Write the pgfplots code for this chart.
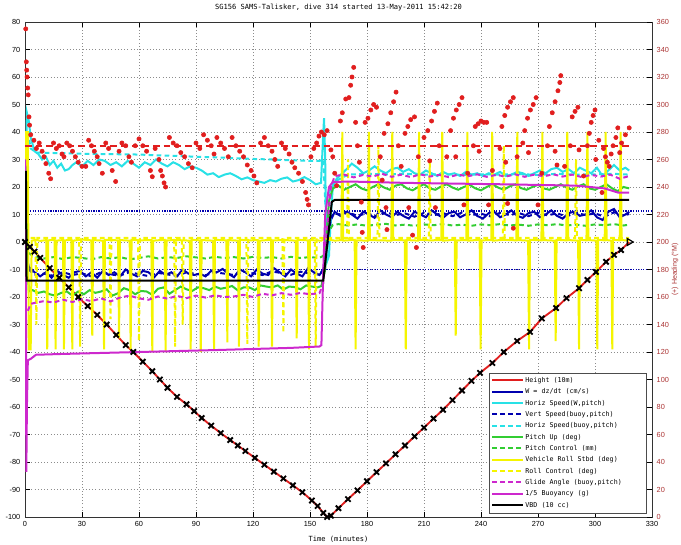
\documentclass[border=0pt]{standalone}
\usepackage{fontspec}
\setmainfont{Liberation Sans}
\setmonofont{DejaVu Sans Mono}
\usepackage{pgfplots}
\pgfplotsset{compat=1.18}
\definecolor{cred}{RGB}{225,30,30}
\definecolor{cblue}{RGB}{0,0,175}
\definecolor{ccyan}{RGB}{40,225,230}
\definecolor{cgreen}{RGB}{50,205,50}
\definecolor{cyellow}{RGB}{245,245,0}
\definecolor{cmag}{RGB}{205,40,205}
\definecolor{cdkred}{RGB}{170,50,50}
\tikzset{dsh/.style={dash pattern=on 3.5pt off 2.5pt}}
\begin{document}
\begin{tikzpicture}
\begin{axis}[
  at={(0,0)}, anchor=south west,
  width=470.25pt, height=371.25pt, scale only axis,
  xmin=0, xmax=330, ymin=-100, ymax=80,
  xtick={0,30,...,330}, ytick={-100,-90,...,80},
  tick align=inside, ytick pos=left,
  grid=major, major grid style={dash pattern=on 0.6pt off 1.8pt, black!45, line width=0.4pt},
  tick style={black, line width=0.4pt}, major tick length=4pt,
  axis line style={black!80, line width=0.5pt},
  ticklabel style={font=\fontsize{5.5}{6}\selectfont},
  /pgf/number format/assume math mode=true,
  title={SG156 SAMS-Talisker, dive 314 started 13-May-2011 15:42:20},
  title style={font=\fontsize{5.3}{6}\selectfont\ttfamily, yshift=-1pt},
  xlabel={Time (minutes)},
  xlabel style={font=\fontsize{5.3}{6}\selectfont\ttfamily},
  legend style={at={(0.992,0.008)}, anchor=south east,
    font=\fontsize{5}{6}\selectfont\ttfamily, draw=black!70, line width=0.4pt,
    fill=white, row sep=0pt, inner sep=1.5pt,
    nodes={inner sep=1.2pt, text height=4.5pt, text depth=1.6pt, anchor=west}},
  legend cell align=left,
  legend image code/.code={\draw[#1] (0pt,0pt) -- (23pt,0pt);},
]
\addlegendimage{cred, line width=1.5pt}\addlegendentry{Height (10m)}
\addlegendimage{cblue, line width=1.5pt}\addlegendentry{W = dz/dt (cm/s)}
\addlegendimage{ccyan, line width=1.5pt}\addlegendentry{Horiz Speed(W,pitch)}
\addlegendimage{cblue, line width=1.5pt, dsh}\addlegendentry{Vert Speed(buoy,pitch)}
\addlegendimage{ccyan, line width=1.5pt, dsh}\addlegendentry{Horiz Speed(buoy,pitch)}
\addlegendimage{cgreen, line width=1.5pt}\addlegendentry{Pitch Up (deg)}
\addlegendimage{cgreen, line width=1.5pt, dsh}\addlegendentry{Pitch Control (mm)}
\addlegendimage{cyellow, line width=1.5pt}\addlegendentry{Vehicle Roll Stbd (deg)}
\addlegendimage{cyellow, line width=1.5pt, dsh}\addlegendentry{Roll Control (deg)}
\addlegendimage{cmag, line width=1.5pt, dsh}\addlegendentry{Glide Angle (buoy,pitch)\hspace*{16pt}}
\addlegendimage{cmag, line width=1.5pt}\addlegendentry{1/5 Buoyancy (g)}
\addlegendimage{black, line width=1.5pt}\addlegendentry{VBD (10 cc)}

% desired W lines
\addplot[forget plot, cblue, densely dotted, line width=0.9pt] coordinates {(0,11.3) (330,11.3)};
\addplot[forget plot, cblue, densely dotted, line width=0.9pt] coordinates {(0,-10) (330,-10)};

% Height (10m)
\addplot[forget plot, cred, line width=1.4pt] coordinates {
(0,0) (2.6,-1.8) (5,-3.5) (8,-5.8) (13,-9.5) (18,-13) (23,-16.5) (28,-20) (33,-23.3) (38,-26.5) (43,-30) (48,-33.8) (53,-37.5) (57,-40) (62,-43.5) (67,-47) (71,-50) (75,-53) (80,-56.3) (85,-59) (89,-61.5) (93,-64) (98,-66.8) (103,-69.5) (108,-72) (112,-74) (116,-76) (121,-78.5) (126,-81) (131,-83.5) (136,-86) (141,-88.5) (146,-91) (151,-94) (154,-96) (157,-98.5) (159,-100) (161,-99.5) (165,-96.8) (170,-93.5) (175,-90.3) (180,-87) (185,-83.7) (190,-80.5) (195,-77.2) (200,-74) (205,-70.7) (210,-67.5) (215,-64.2) (220,-61) (225,-57.5) (230,-54) (235,-50.5) (239.5,-47.6) (246,-44) (252,-40) (259,-36) (265.8,-32.7) (272,-27.8) (279.5,-24) (285,-20.4) (291.6,-16.8) (296,-13.8) (300.5,-10.9) (305.8,-7.2) (310,-4.7) (313.7,-2.9) (318,0)};

% W = dz/dt
\addplot[forget plot, cblue, line width=1.5pt] coordinates {
(1,-6) (2,-9) (5,-11) (8,-12.5) (11,-11) (14,-13) (17,-10.5) (20,-12) (23,-13) (26,-11) (29,-10.5) (32,-12.5) (35,-11) (38,-13) (41,-10.5) (44,-12) (47,-11) (50,-12.5) (53,-10) (56,-11.5) (59,-12.5) (62,-10.5) (65,-11) (68,-12.8) (71,-10.5) (74,-12) (77,-11) (80,-12.5) (83,-10) (86,-11.5) (89,-12) (92,-11.5) (95,-12.5) (98,-10.5) (101,-11) (104,-9.8) (107,-11.5) (110,-12.8) (113,-10) (116,-11) (119,-12.5) (122,-10) (125,-11.5) (128,-12) (131,-9.5) (134,-11) (137,-12.5) (140,-10) (143,-11.5) (146,-12.5) (149,-9.5) (152,-11) (155,-12) (157,-10) (159,-2) (161,8) (163,11) (166,9.5) (169,11) (172,10) (175,8.5) (178,11) (181,10) (184,8.8) (187,11.5) (190,10) (193,9) (196,11) (199,9.5) (202,8.5) (205,11) (208,10) (211,9) (214,11.5) (217,10) (220,8.8) (223,10.5) (226,11) (229,9) (232,10) (235,11.5) (238,9.5) (241,8.5) (244,10.5) (247,11) (250,9) (253,10) (256,11.5) (259,9.5) (262,8.8) (265,10.5) (268,11) (271,9) (274,10) (277,11.5) (280,9.5) (283,8.5) (286,10.5) (289,11) (292,9.5) (295,10) (298,11.5) (301,9) (304,8) (307,11) (310,12) (313,9) (316,10) (318,11)};

% Horiz Speed (W,pitch)
\addplot[forget plot, ccyan, line width=1.5pt] coordinates {
(0.5,30) (1,47) (2,44) (3,38) (5,33) (7,32) (9,30) (11,31) (13,28) (15,29.5) (17,27) (19,28.5) (21,26) (23,26.5) (25,28) (27,29) (30,27.5) (33,29.5) (36,28) (39,30) (42,29.5) (45,28) (48,29) (51,27.5) (54,29.5) (57,28.5) (60,27) (63,29) (66,28) (69,30) (72,28.5) (75,27.5) (78,29) (81,28) (84,26.5) (87,27.5) (90,27) (93,26) (96,24.5) (99,25) (102,23.6) (105,24.5) (108,25) (111,24) (114,22.8) (117,23.5) (120,22.5) (123,22) (126,21.5) (129,22.5) (132,22) (135,23) (138,23.5) (141,22) (144,22.5) (147,23.6) (150,22.5) (153,21) (155.8,21.5) (157,40) (157.4,45) (158,30) (158.5,0) (159,-7) (160,-5) (161,10) (162,20) (164,23) (167,25) (170,27) (172,28.5) (175,27) (178,25) (181,26) (184,27.5) (187,26) (190,25) (193,26.5) (196,27) (199,25.5) (202,26.5) (205,25) (208,24.5) (211,26) (214,25) (217,24) (220,25.5) (223,24.5) (226,25) (229,24) (232,25.5) (235,24.5) (238,25) (241,24) (244,25) (247,24.5) (250,25.5) (253,24) (256,24.5) (259,25.5) (262,25) (265,24) (268,25) (271,26) (274,25) (277,26.5) (280,27) (283,25.5) (286,26.5) (289,25) (292,27) (295,26) (298,25) (301,27) (304,24) (307,26) (310,28) (313,26) (316,27) (318,26)};

% Vert Speed (buoy,pitch)
\addplot[forget plot, cblue, line width=1.5pt, dsh] coordinates {
(2,-10) (5,-12) (10,-11.5) (15,-12.3) (20,-11) (25,-12) (30,-11.4) (35,-12.5) (40,-11) (45,-11.8) (50,-12.2) (55,-11) (60,-11.7) (65,-12.4) (70,-11.2) (75,-11.8) (80,-12.3) (85,-11) (90,-11.6) (95,-12.1) (100,-11) (105,-11.5) (110,-12) (115,-10.8) (120,-11.4) (125,-12) (130,-10.7) (135,-11.3) (140,-11.9) (145,-10.8) (150,-11.5) (155,-11.8) (157,-10) (159,0) (161,9) (163,10.5) (165,10) (170,10.8) (175,9.5) (180,10.5) (185,9.3) (190,10.8) (195,9.8) (200,10.4) (205,9.2) (210,10.6) (215,9.7) (220,10.5) (225,9.4) (230,10.7) (235,9.8) (240,10.3) (245,9.3) (250,10.6) (255,9.8) (260,10.5) (265,9.4) (270,10.6) (275,9.7) (280,10.4) (285,9.3) (290,10.6) (295,9.8) (300,10.4) (305,9.2) (310,10.8) (315,9.6) (318,10.2)};

% Horiz Speed (buoy,pitch)
\addplot[forget plot, ccyan, line width=1.5pt, dsh] coordinates {
(1.5,40) (3,34) (6,32.5) (12,32.4) (20,32.3) (30,32.1) (40,32) (50,31.9) (60,31.8) (70,31.5) (80,31.3) (90,31) (100,30.8) (110,30.5) (120,30.2) (130,30) (140,29.7) (150,29.5) (155,29.5) (157,30) (158,15) (160,18) (163,22) (170,24.5) (180,24.8) (190,24.6) (200,24.8) (210,24.5) (220,24.7) (230,24.4) (240,24.6) (250,24.5) (260,24.7) (270,24.4) (280,24.8) (290,24.5) (300,24.6) (310,24.8) (318,24.5)};

% Pitch Up
\addplot[forget plot, cgreen, line width=1.5pt] coordinates {
(0.5,36) (1,30) (1.5,-10) (2,-18) (4,-17.5) (7,-18.5) (10,-18) (13,-19) (16,-19.5) (19,-18.5) (22,-18) (25,-19.5) (28,-18) (31,-19) (34,-17.5) (37,-18.5) (40,-18) (43,-17.2) (46,-19.5) (49,-18.6) (52,-16.8) (55,-17.5) (58,-19) (61,-17.8) (64,-18) (67,-19.2) (70,-17) (73,-16.5) (76,-18.8) (79,-17.5) (82,-16.2) (85,-17.2) (88,-17.8) (91,-16.5) (94,-16.8) (97,-17.5) (100,-16.2) (103,-17) (106,-16.6) (109,-16) (112,-17.6) (115,-16.5) (118,-16.5) (121,-17.5) (124,-15.8) (127,-16.2) (130,-16.5) (133,-15.8) (136,-17.3) (139,-16.2) (142,-16.4) (145,-17.2) (148,-15.8) (151,-16.2) (154,-16.5) (156,-16) (158,-10) (159,5) (160,15) (162,19.5) (165,20.5) (168,19) (171,20) (174,21) (177,19.5) (180,18.8) (183,20) (186,21) (189,19.8) (192,19) (195,20.5) (198,21) (201,19.5) (204,18.8) (207,20) (210,21) (213,19.5) (216,19) (219,20.2) (222,21) (225,19.8) (228,19) (231,20) (234,20.8) (237,19.5) (240,18.8) (243,20) (246,21) (249,19.8) (252,19) (255,20.2) (258,21) (261,19.6) (264,19) (267,20) (270,20.8) (273,19.5) (276,19) (279,20) (282,21) (285,19.8) (288,19) (291,20.2) (294,21) (297,19.5) (300,19) (303,20) (306,21) (309,19.5) (312,18.5) (315,20) (318,19.5)};

% Pitch Control
\addplot[forget plot, cgreen, line width=1.5pt, dsh] coordinates {
(2,-4) (5,-5.5) (10,-6) (15,-5.5) (20,-6.2) (25,-5.5) (30,-5.8) (35,-6.3) (40,-5.5) (45,-6) (50,-5.5) (55,-6.3) (60,-5.8) (65,-5.2) (70,-6) (75,-5.5) (80,-5.8) (85,-5.2) (90,-5.6) (95,-6) (100,-5.4) (105,-5.8) (110,-5.5) (115,-6) (120,-5.4) (125,-5.8) (130,-5.5) (135,-6) (140,-5.4) (145,-5.8) (150,-5.5) (155,-5.8) (157,-5) (160,4) (162,6.2) (165,6.5) (170,6) (175,6.4) (180,5.9) (185,6.3) (190,6.6) (195,6) (200,6.3) (205,5.9) (210,6.4) (215,6.1) (220,6.5) (225,6) (230,6.3) (235,5.9) (240,6.4) (245,6.1) (250,6.5) (255,6) (260,6.3) (265,5.9) (270,6.4) (275,6.1) (280,6.5) (285,6) (290,6.3) (295,5.9) (300,6.4) (305,6.1) (310,6.5) (315,6) (318,6.3)};

% Vehicle Roll Stbd
\addplot[forget plot, cyellow, line width=1.5pt] coordinates {
(0,5) (0.5,40) (1.5,40) (2,-39) (3,-39) (3.5,0.5) (6,0.8) (8,0.4) (11.2,0.7) (11.7,-39) (12.2,0.6) (15.6,0.8) (16.1,-39) (16.6,0.5) (20,0.7) (20.5,-39) (21,0.6) (24.4,0.8) (24.9,-39) (25.4,0.5) (30,0.9) (34.9,0.6) (35.4,-34) (35.9,0.7) (41.1,0.5) (41.6,-39) (42.1,0.8) (49,0.6) (49.5,-35) (50,0.7) (55.1,0.5) (55.6,-39) (56.1,0.8) (60,0.6) (66.5,0.7) (67,-40) (67.5,0.5) (73.5,0.8) (74,-40) (74.5,0.6) (80,0.7) (86.7,0.5) (87.2,-39) (87.7,0.8) (92,0.6) (92.5,-40) (93,0.7) (99,0.5) (99.5,-39) (100,0.8) (106,0.6) (106.5,-36.5) (107,0.7) (112.1,0.5) (112.6,-38) (113.1,0.8) (118,0.6) (122.5,0.7) (123,-38) (123.5,0.5) (129.5,0.8) (130,-38) (130.5,0.6) (137,0.7) (142.5,0.5) (143,-35) (143.5,0.8) (149,0.6) (149.5,-39) (150,0.7) (156,0.5) (158,1.5) (160,0.8) (163,0.5) (166.5,0.7) (167,40) (167.5,0.5) (173.5,0.8) (174,-39) (174.5,0.6) (180.5,0.5) (181,40) (181.5,0.7) (187,0.6) (192.8,0.5) (193.3,40) (193.8,0.8) (199.9,0.6) (200.4,-39) (200.9,0.7) (206.9,0.5) (207.4,40) (207.9,0.8) (213,0.6) (219.1,0.7) (219.6,40) (220.1,0.5) (226.2,0.8) (226.7,-34) (227.2,0.6) (232.3,0.7) (232.8,40) (233.3,0.5) (239.3,0.8) (239.8,-39) (240.3,0.6) (245.4,0.7) (245.9,40) (246.4,0.5) (252,0.8) (258.6,0.6) (259.1,40) (259.6,0.7) (264.8,0.5) (265.3,-39) (265.8,0.8) (271.8,0.6) (272.3,40) (272.8,0.7) (278.8,0.5) (279.3,-36) (279.8,0.8) (284.9,0.6) (285.4,40) (285.9,0.7) (291.1,0.5) (291.6,-39) (292.1,0.8) (295.5,0.6) (296,40) (296.5,0.7) (300.7,0.5) (301.2,-39) (301.7,0.8) (305.1,0.6) (305.6,40) (306.1,0.7) (308.6,0.5) (309.1,-39) (309.6,0.8) (313,0.6) (313.5,40) (314,0.7) (318,0.5)};

% Roll Control
\addplot[forget plot, cyellow, line width=1.5pt, dsh] coordinates {
(3,1.5) (5.5,1.5) (6,-30) (6.5,1.5) (28.5,1.5) (29,-38) (29.5,1.5) (44.5,1.5) (45,-28) (45.5,1.5) (59.5,1.5) (60,-36) (60.5,1.5) (78.5,1.5) (79,-38) (79.5,1.5) (82.5,1.5) (83,-30) (83.5,1.5) (116.5,1.5) (117,-37) (117.5,1.5) (135.5,1.5) (136,-33) (136.5,1.5) (152.5,1.5) (153,-38) (153.5,1.5) (169.5,1.5) (170,30) (170.5,1.5) (185.5,1.5) (186,35) (186.5,1.5) (212.5,1.5) (213,30) (213.5,1.5) (251.5,1.5) (252,35) (252.5,1.5) (289.5,1.5) (290,30) (290.5,1.5) (318,1.5)};

% Glide Angle
\addplot[forget plot, cmag, line width=1.5pt, dsh] coordinates {
(1.5,-25) (3,-22.5) (6,-22) (10,-21.5) (15,-22) (20,-21) (25,-21.8) (30,-20.8) (35,-21.5) (40,-20.5) (45,-21.6) (50,-20.2) (55,-19.5) (60,-20.5) (65,-21) (70,-19.8) (75,-20.6) (80,-19.6) (85,-20.4) (90,-19.5) (95,-20.2) (100,-19.4) (105,-20) (110,-19.8) (115,-19.2) (120,-20) (125,-18.8) (130,-19.4) (135,-18.6) (140,-19.2) (145,-18.5) (150,-19) (155,-18.6) (157,-15) (159,5) (161,20) (163,24) (168,24.5) (173,23.5) (178,24.4) (183,23.8) (188,24.8) (193,23.7) (198,24.5) (203,23.6) (208,24.6) (213,23.8) (218,24.4) (223,23.6) (228,24.5) (233,23.9) (238,24.6) (243,23.7) (248,24.4) (253,23.8) (258,24.6) (263,23.7) (268,24.5) (273,23.9) (278,24.6) (283,23.8) (288,24.5) (293,23.6) (298,24.4) (303,23.8) (308,24.5) (313,23) (318,24)};

% 1/5 Buoyancy
\addplot[forget plot, cmag, line width=1.5pt] coordinates {
(0,30) (0.3,25) (0.5,-20) (0.7,-83.6) (1.0,-60) (1.5,-43) (3,-42.5) (5.8,-41) (20,-40.7) (60,-40) (100,-39.3) (140,-38.5) (155,-38) (156,-37.5) (157,-10) (158,10) (160,20) (162,21.8) (170,22) (200,21.5) (250,21) (290,20.5) (305,19.5) (312,18) (318,18)};

% VBD
\addplot[forget plot, black, line width=1.5pt] coordinates {
(0,25.5) (0.5,25.5) (0.8,-14) (157,-14) (161.5,14.6) (163,15.3) (318,15.3)};

% depth markers
\addplot[forget plot, only marks, mark=x, mark size=2.8pt, black, mark options={line width=1.4pt}] coordinates {
(0,0) (2.6,-1.8) (5,-3.5) (8,-5.8) (13,-9.5) (18,-13) (23,-16.5) (28,-20) (33,-23.3) (38,-26.5) (43,-30) (48,-33.8) (53,-37.5) (57,-40) (62,-43.5) (67,-47) (71,-50) (75,-53) (80,-56.3) (85,-59) (89,-61.5) (93,-64) (98,-66.8) (103,-69.5) (108,-72) (112,-74) (116,-76) (121,-78.5) (126,-81) (131,-83.5) (136,-86) (141,-88.5) (146,-91) (151,-94) (154,-96) (157,-98.5) (159,-100) (161,-99.5) (165,-96.8) (170,-93.5) (175,-90.3) (180,-87) (185,-83.7) (190,-80.5) (195,-77.2) (200,-74) (205,-70.7) (210,-67.5) (215,-64.2) (220,-61) (225,-57.5) (230,-54) (235,-50.5) (239.5,-47.6) (246,-44) (252,-40) (259,-36) (265.8,-32.7) (272,-27.8) (279.5,-24) (285,-20.4) (291.6,-16.8) (296,-13.8) (300.5,-10.9) (305.8,-7.2) (310,-4.7) (313.7,-2.9)};
\addplot[forget plot, only marks, mark=triangle, mark size=3pt, black, mark options={rotate=-90, line width=0.9pt, fill=white}] coordinates {(318,0)};
\end{axis}

\begin{axis}[
  at={(0,0)}, anchor=south west,
  width=470.25pt, height=371.25pt, scale only axis,
  xmin=0, xmax=330, ymin=0, ymax=360,
  hide x axis, axis y line*=right, axis line style={-, black!80, line width=0.5pt},
  ytick={0,20,...,360}, tick align=inside, major tick length=4pt,
  tick style={black, line width=0.4pt},
  yticklabel style={font=\fontsize{5.5}{6}\selectfont, text=cdkred},
  /pgf/number format/assume math mode=true,
  ylabel={(+) Heading (°M)},
  ylabel style={font=\fontsize{5.3}{6}\selectfont, text=cdkred, at={(axis description cs:1,0.5)}, anchor=center, xshift=0pt, yshift=-17.25pt},
]
\addplot[cred, line width=1.4pt, dash pattern=on 5pt off 3pt] coordinates {(0,270) (318,270)};
\addplot[only marks, mark=*, mark size=1.6pt, cred] coordinates {
(0.4,355) (0.7,331) (0.9,325) (1.1,320) (1.4,312) (1.7,307) (2.1,291) (2.4,285) (3,278) (4.7,274) (6,268) (7.5,272) (9,266) (10,262) (11,257) (12.5,250) (13.5,246) (15,272) (16.5,268) (18,270) (19.5,264) (20.5,262) (22,272) (23.5,270) (25,266) (26.5,262) (28,258) (30,255) (32,255) (33.5,274) (35,270) (36.5,266) (38,262) (39,257) (40.7,250) (42.5,272) (44,268) (45.9,252) (47.7,244) (49.5,266) (51,272) (53,270) (54.7,262) (56,258) (58,270) (60,275) (62,270) (64,266) (66,252) (67,247.5) (68.5,268) (70.5,260) (71.4,252) (72.3,248) (73.2,243) (74,240) (76,276) (78,272) (80,270) (82,265) (84,262) (86,257) (88,254) (90,272) (92,268) (94,278) (96,274) (98,270) (99.5,264) (101,276) (103,272) (105,268) (107,262) (109,276) (111,270) (113,266) (115,262) (117,256) (119,252) (120.5,248) (122,243) (124,272) (126,276) (128,270) (130,266) (131.5,260) (133,255) (135,272) (137,268) (139,264) (140.5,258) (142,254) (144,250) (146,244) (147.7,236) (148.5,231) (149.2,227) (150.5,262) (152,268) (153.5,272) (154.7,277) (156,280) (157.5,278) (159,281) (161,267) (162,262)
(163,250) (164,241) (166,288) (167,294) (168.8,304) (170.5,305) (171.4,314) (172.1,320) (173,327) (174,287) (175,270) (176,258) (177,229) (177.5,207) (178,196)
(179,287) (180.5,290) (182,296) (183.5,300) (185,298) (187,262) (188,245)
(189,279) (190,225) (190.5,209) (191,286) (192.5,294) (194,302) (195.3,309) (196.5,270) (198,255)
(200,279) (201.5,284) (202,225) (203,289) (204,205) (205,291) (206,196) (207,262)
(210,276) (212,281) (213,259) (214,288) (215.5,295) (217,301) (218,270) (216,225)
(222,262) (224,281) (225.5,290) (227,296) (228.5,300) (230,305) (226.7,262) (231,227) (233,250)
(236,270) (237,284) (238.5,286) (240,288) (241.5,287) (243,287) (239,266) (244,227) (246,252)
(250,268) (251,284) (252.5,292) (254,298) (255.5,302) (257,305) (253,258) (254,228) (257,210) (259,262)
(262,272) (263,281) (264.5,290) (266,296) (267.5,300) (269,305) (265,265) (270,227) (272,250)
(275,270) (276,284) (277.5,294) (279,302) (280.5,310) (281.5,316) (282,321) (279,266) (280,256) (284,255)
(287,270) (288,291) (289.5,295) (291,298) (291.6,267) (294,248)
(296,270) (297,279) (298,287) (299,292) (300,296) (300.4,260) (302,274) (303.7,236) (304.5,268) (305.5,262) (306.5,258) (307.5,255) (308.5,264) (309.5,270) (311,276) (312,283) (313,265) (314,272) (316,278) (318,283)};
\end{axis}
\pgfresetboundingbox
\path (-18.75pt,-20.25pt) rectangle (492pt,387.75pt);
\end{tikzpicture}
\end{document}
